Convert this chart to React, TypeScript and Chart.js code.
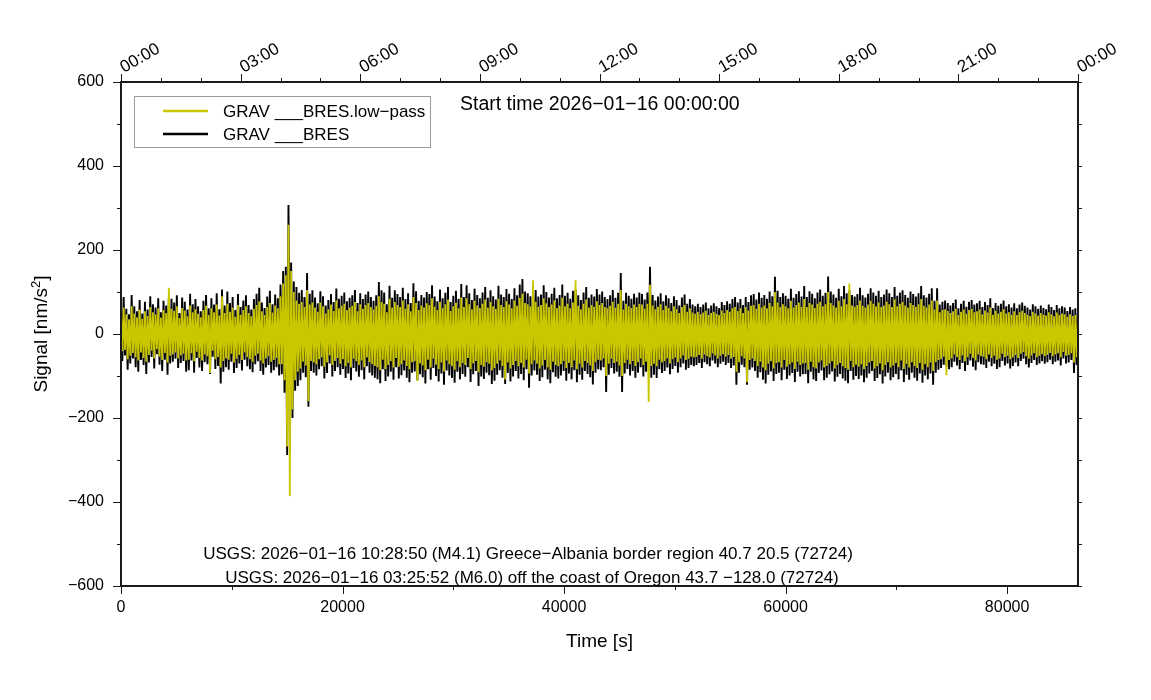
import React, { useEffect, useRef } from "react";
import { Chart, registerables } from "chart.js";

Chart.register(...registerables);

// ---- data (one sample every SAMPLE_STEP_S seconds) ----
const SAMPLE_STEP_S = 120;

const BRES_RAW = [
  72,-64,88,-51,60,-85,47,-70,93,-58,66,-79,54,-90,81,-62,49,-74,77,-95,58,-68,90,-55,
  71,-82,63,-48,85,-73,52,-88,79,-61,68,-97,86,-70,84,-66,75,-59,92,-81,50,-69,87,-64,
  77,-90,58,-86,96,-63,71,-92,83,-57,66,-80,54,-88,79,-67,93,-72,61,-95,85,-54,70,-83,
  97,-76,59,-118,106,-90,68,-79,101,-85,74,-66,88,-93,57,-81,95,-70,64,-87,80,-61,92,-77,
  69,-84,58,-91,83,-72,96,-65,110,-88,75,-97,62,-80,89,-74,103,-92,71,-86,94,-79,85,-99,
  118,-96,150,-140,160,-288,307,-150,170,-200,125,-135,112,-124,98,-110,105,-92,88,-103,145,-173,96,-88,
  104,-92,87,-99,73,-84,102,-77,90,-106,68,-93,81,-70,95,-101,76,-88,108,-79,84,-97,91,-83,
  99,-105,78,-94,86,-110,92,-81,105,-89,74,-102,97,-86,83,-108,94,-77,101,-92,88,-99,79,-104,
  92,-108,124,-117,104,-84,99,-112,71,-101,115,-90,86,-109,104,-79,95,-106,88,-98,110,-87,83,-104,
  97,-115,74,-92,121,-89,102,-110,79,-96,93,-103,87,-118,100,-84,95,-109,116,-81,89,-100,78,-113,
  106,-94,85,-121,98,-87,112,-99,76,-105,91,-116,103,-90,84,-108,119,-95,88,-102,116,-79,97,-114,
  81,-96,108,-88,93,-124,85,-101,99,-107,112,-92,86,-98,104,-119,90,-111,82,-97,115,-86,94,-104,
  88,-119,107,-93,96,-113,83,-101,109,-88,92,-106,118,-95,131,-110,101,-84,97,-128,90,-99,112,-87,
  105,-97,89,-112,94,-103,116,-85,100,-108,87,-117,96,-91,110,-102,85,-106,93,-99,118,-88,91,-111,
  98,-94,84,-108,103,-86,106,-115,92,-97,81,-109,99,-88,112,-95,86,-103,94,-120,89,-92,107,-84,
  94,-86,101,-79,88,-138,83,-97,92,-81,105,-94,86,-90,98,-102,145,-138,79,-94,98,-83,91,-99,
  84,-88,96,-104,87,-92,99,-79,95,-101,82,-90,99,-86,160,-104,93,-97,80,-105,89,-84,97,-93,
  78,-88,92,-80,85,-96,74,-83,90,-76,81,-92,68,-79,87,-70,94,-85,72,-81,83,-74,70,-77,
  66,-74,72,-69,64,-81,70,-67,75,-72,61,-77,68,-63,73,-70,66,-79,62,-71,76,-66,69,-74,
  78,-69,72,-81,83,-75,88,-121,75,-92,83,-73,69,-79,88,-121,76,-85,92,-80,95,-88,82,-104,
  99,-91,86,-109,93,-118,84,-97,101,-89,90,-112,136,-95,103,-92,88,-110,97,-85,91,-107,84,-99,
  108,-93,86,-114,95,-90,102,-101,89,-96,114,-95,88,-117,102,-90,96,-108,85,-112,99,-93,106,-87,
  91,-110,98,-104,137,-96,101,-89,94,-113,86,-102,108,-95,90,-106,114,-111,97,-117,104,-88,93,-109,
  89,-100,95,-107,110,-99,92,-115,87,-104,96,-94,109,-88,99,-112,91,-105,103,-96,88,-118,94,-101,
  106,-92,97,-110,88,-103,112,-95,91,-108,99,-87,104,-114,93,-97,86,-109,101,-92,95,-104,89,-111,
  97,-94,114,-116,92,-99,87,-108,96,-94,109,-121,79,-92,109,-85,70,-81,77,-73,80,-78,74,-84,
  68,-79,74,-66,82,-75,61,-84,72,-69,79,-88,65,-74,77,-63,81,-78,70,-86,73,-67,79,-72,
  64,-73,76,-81,69,-66,85,-77,62,-71,74,-83,67,-79,72,-64,80,-75,66,-70,71,-82,63,-76,
  73,-68,61,-77,70,-64,75,-59,67,-72,63,-80,58,-69,71,-62,66,-74,60,-70,68,-65,62,-71,
  59,-67,70,-61,64,-72,57,-66,69,-63,61,-75,66,-58,63,-70,55,-68,64,-62,58,-93,61,-74,
  58,
];

const BRES_LOWPASS = [
  50,-41,63,-38,47,-60,35,-52,66,-45,49,-55,40,-63,58,-44,36,-57,54,-66,43,-50,64,-40,
  52,-58,47,-36,61,-54,39,-62,57,-45,50,-68,110,-52,60,-49,55,-44,66,-58,38,-51,62,-47,
  56,-63,42,-61,68,-46,52,-65,59,-42,48,-57,40,-63,57,-49,67,-53,45,-93,61,-40,52,-60,
  70,-55,44,-80,90,-64,50,-58,72,-61,53,-47,63,-68,41,-59,69,-50,46,-62,57,-44,66,-55,
  50,-60,42,-66,60,-52,69,-47,78,-63,54,-70,45,-58,64,-53,74,-66,51,-62,68,-57,61,-72,
  90,-72,120,-110,140,-268,260,-386,150,-180,100,-110,80,-90,72,-82,76,-66,64,-75,105,-160,70,-64,
  75,-68,63,-72,53,-60,75,-56,66,-78,49,-68,59,-51,70,-74,55,-64,80,-57,61,-71,67,-60,
  72,-77,57,-69,63,-80,67,-59,76,-65,54,-74,71,-63,60,-79,69,-56,74,-67,64,-72,58,-76,
  67,-79,90,-86,76,-61,72,-83,52,-74,84,-65,63,-80,76,-57,69,-78,64,-72,80,-63,60,-76,
  71,-84,54,-67,88,-65,74,-112,57,-70,68,-75,63,-86,73,-61,69,-80,85,-59,65,-73,57,-83,
  77,-68,62,-89,71,-63,82,-72,55,-77,66,-85,75,-65,61,-79,87,-69,64,-74,85,-57,71,-83,
  59,-70,79,-64,68,-91,62,-74,72,-78,82,-67,63,-71,76,-87,66,-81,60,-71,84,-63,69,-76,
  64,-108,78,-68,70,-82,61,-74,80,-64,67,-77,86,-69,96,-80,74,-61,71,-94,66,-72,128,-63,
  77,-71,65,-82,69,-75,85,-62,73,-79,64,-85,70,-66,80,-74,62,-77,68,-72,86,-64,66,-81,
  72,-69,61,-79,75,-63,128,-84,67,-71,59,-80,72,-64,82,-69,63,-75,69,-88,65,-67,78,-61,
  69,-63,74,-58,64,-100,61,-71,67,-59,77,-69,63,-66,72,-75,105,-100,58,-69,72,-61,66,-72,
  62,-64,70,-76,64,-67,72,-58,70,-74,60,-66,72,-162,117,-76,68,-71,59,-77,65,-61,71,-68,
  57,-64,67,-58,62,-70,54,-60,66,-56,59,-67,50,-58,64,-51,69,-62,53,-59,61,-54,51,-56,
  48,-54,53,-50,47,-59,51,-49,55,-53,45,-56,50,-46,53,-51,48,-58,45,-52,56,-48,50,-54,
  57,-50,53,-59,61,-55,64,-90,55,-67,61,-53,50,-58,64,-115,56,-62,67,-58,69,-64,60,-76,
  72,-66,63,-80,68,-86,61,-71,74,-65,66,-82,100,-69,75,-67,64,-80,71,-62,66,-78,61,-72,
  79,-68,63,-83,69,-66,75,-74,65,-70,83,-69,64,-85,74,-66,70,-79,62,-82,72,-68,77,-63,
  66,-80,71,-76,100,-70,74,-65,68,-82,63,-74,79,-69,66,-77,83,-81,71,-85,120,-64,68,-79,
  65,-73,69,-78,80,-72,67,-84,63,-76,70,-68,79,-64,72,-82,66,-77,75,-70,64,-86,68,-74,
  77,-67,71,-80,64,-75,82,-69,66,-79,72,-63,76,-83,68,-71,63,-80,74,-67,69,-76,65,-81,
  71,-69,83,-85,67,-72,63,-79,70,-68,80,-88,58,-67,80,-62,52,-60,57,-54,59,-98,55,-62,
  50,-58,54,-49,60,-55,45,-62,53,-51,58,-65,48,-55,57,-47,60,-57,52,-63,54,-49,58,-53,
  47,-54,56,-60,51,-49,63,-57,46,-52,55,-61,49,-58,53,-47,59,-55,49,-52,52,-60,46,-56,
  54,-50,45,-57,52,-47,55,-43,50,-53,46,-59,43,-51,53,-46,49,-55,44,-52,50,-48,46,-53,
  44,-50,52,-45,47,-53,42,-49,51,-46,45,-55,49,-43,47,-52,41,-50,47,-46,43,-68,45,-55,
  42,
];

const BOTTOM_TICKS = [0, 20000, 40000, 60000, 80000];
const TOP_TICK_SECONDS = [0, 10800, 21600, 32400, 43200, 54000, 64800, 75600, 86400];
const TOP_TIME_LABELS = ["00:00", "03:00", "06:00", "09:00", "12:00", "15:00", "18:00", "21:00", "00:00"];
const SERIES_NAMES = ["GRAV ___BRES.low\u2212pass", "GRAV ___BRES"];
const SERIES_COLORS = ["rgb(202,198,0)", "#000000"];
const START_TIME_TEXT = "Start time 2026\u221201\u221216 00:00:00";
const EVENT_LINES = [
  "USGS: 2026\u221201\u221216 10:28:50 (M4.1) Greece\u2212Albania border region 40.7 20.5 (72724)",
  "USGS: 2026\u221201\u221216 03:25:52 (M6.0) off the coast of Oregon 43.7 \u2212128.0 (72724)",
];
const X_TITLE = "Time [s]";
const Y_TITLE = "Signal [nm/s";

const X_MIN = 0;
const X_MAX = 86400;
const Y_MIN = -600;
const Y_MAX = 600;

const FONT = "'Liberation Sans', Arial, Helvetica, sans-serif";

function toPoints(values: number[]) {
  return values.map((v, i) => ({ x: i * SAMPLE_STEP_S, y: v }));
}

const overlayPlugin = {
  id: "overlay",
  afterDraw(chart: any) {
    const { ctx, chartArea: a, scales } = chart;
    const xs = scales.x;
    const ys = scales.y;
    ctx.save();

    // ticks
    ctx.strokeStyle = "#1a1a1a";
    ctx.lineWidth = 1;
    ctx.beginPath();
    for (let v = 0; v <= 80000; v += 10000) {
      const px = Math.round(xs.getPixelForValue(v)) + 0.5;
      const len = v % 20000 === 0 ? 8 : 4;
      ctx.moveTo(px, a.bottom);
      ctx.lineTo(px, a.bottom + len);
    }
    for (let h = 0; h <= 24; h++) {
      const px = Math.round(xs.getPixelForValue(h * 3600)) + 0.5;
      const len = h % 3 === 0 ? 8 : 4;
      ctx.moveTo(px, a.top);
      ctx.lineTo(px, a.top - len);
    }
    for (let v = Y_MIN; v <= Y_MAX; v += 100) {
      const py = Math.round(ys.getPixelForValue(v)) + 0.5;
      const len = v % 200 === 0 ? 8 : 4;
      ctx.moveTo(a.left, py);
      ctx.lineTo(a.left - len, py);
      ctx.moveTo(a.right, py);
      ctx.lineTo(a.right + 4, py);
    }
    ctx.stroke();

    // frame
    ctx.lineWidth = 2;
    ctx.strokeRect(a.left, a.top, a.right - a.left, a.bottom - a.top);

    // top time labels (rotated)
    ctx.fillStyle = "#000";
    ctx.font = `17px ${FONT}`;
    ctx.textAlign = "left";
    ctx.textBaseline = "alphabetic";
    TOP_TICK_SECONDS.forEach((s, i) => {
      const px = xs.getPixelForValue(s);
      ctx.save();
      ctx.translate(px + 3, a.top - 9);
      ctx.rotate(-Math.PI / 6);
      ctx.fillText(TOP_TIME_LABELS[i], 0, 0);
      ctx.restore();
    });

    // legend
    const lx = 134, ly = 96, lw = 296, lh = 51;
    ctx.fillStyle = "#ffffff";
    ctx.fillRect(lx, ly, lw, lh);
    ctx.strokeStyle = "#9a9a9a";
    ctx.lineWidth = 1;
    ctx.strokeRect(lx + 0.5, ly + 0.5, lw, lh);
    const rows = [111, 134];
    ctx.font = `17px ${FONT}`;
    ctx.textBaseline = "middle";
    ctx.textAlign = "left";
    rows.forEach((ry, i) => {
      ctx.strokeStyle = SERIES_COLORS[i];
      ctx.lineWidth = 2.5;
      ctx.beginPath();
      ctx.moveTo(163, ry);
      ctx.lineTo(208, ry);
      ctx.stroke();
      ctx.fillStyle = "#000";
      ctx.fillText(SERIES_NAMES[i], 223, ry + 1);
    });

    // start time
    ctx.font = `19.5px ${FONT}`;
    ctx.fillStyle = "#000";
    ctx.fillText(START_TIME_TEXT, 460, 105);

    // event lines
    ctx.font = `17px ${FONT}`;
    ctx.textAlign = "center";
    ctx.fillText(EVENT_LINES[0], 528, 554);
    ctx.fillText(EVENT_LINES[1], 532, 578);

    // axis titles
    ctx.font = `19px ${FONT}`;
    ctx.fillText(X_TITLE, (a.left + a.right) / 2, 642);

    ctx.save();
    ctx.translate(42, (a.top + a.bottom) / 2);
    ctx.rotate(-Math.PI / 2);
    ctx.font = `19px ${FONT}`;
    const w1 = ctx.measureText(Y_TITLE).width;
    ctx.font = `13px ${FONT}`;
    const w2 = ctx.measureText("2").width;
    ctx.font = `19px ${FONT}`;
    const w3 = ctx.measureText("]").width;
    const total = w1 + w2 + w3;
    let sx = -total / 2;
    ctx.textAlign = "left";
    ctx.fillText(Y_TITLE, sx, 0);
    sx += w1;
    ctx.font = `13px ${FONT}`;
    ctx.fillText("2", sx, -6);
    sx += w2;
    ctx.font = `19px ${FONT}`;
    ctx.fillText("]", sx, 0);
    ctx.restore();

    ctx.restore();
  },
};

export default function App() {
  const canvasRef = useRef<HTMLCanvasElement | null>(null);

  useEffect(() => {
    document.body.style.margin = "0";
    const canvas = canvasRef.current;
    if (!canvas) return;
    const tickFont = { family: FONT, size: 16 };
    const common = {
      pointRadius: 0,
      tension: 0,
      borderJoinStyle: "bevel" as const,
      xAxisID: "x",
      yAxisID: "y",
    };
    const chart = new Chart(canvas, {
      type: "line",
      data: {
        datasets: [
          {
            label: SERIES_NAMES[0],
            data: toPoints(BRES_LOWPASS),
            borderColor: SERIES_COLORS[0],
            borderWidth: 1.8,
            ...common,
          },
          {
            label: SERIES_NAMES[1],
            data: toPoints(BRES_RAW),
            borderColor: SERIES_COLORS[1],
            borderWidth: 1.9,
            ...common,
          },
        ],
      },
      options: {
        responsive: false,
        animation: false,
        devicePixelRatio: 1,
        layout: { padding: { left: 0, right: 73, top: 82, bottom: 0 } },
        plugins: { legend: { display: false }, tooltip: { enabled: false } },
        scales: {
          x: {
            type: "linear",
            position: "bottom",
            min: X_MIN,
            max: X_MAX,
            grid: { display: false, drawTicks: false },
            border: { display: false },
            afterBuildTicks: (s: any) => {
              s.ticks = BOTTOM_TICKS.map((v) => ({ value: v }));
            },
            ticks: {
              autoSkip: false,
              maxRotation: 0,
              minRotation: 0,
              padding: 12,
              color: "#000",
              font: tickFont,
              callback: (v: any) => String(v),
            },
            afterFit: (s: any) => {
              s.height = 114;
              s.paddingLeft = 0;
              s.paddingRight = 0;
            },
          },
          y: {
            type: "linear",
            position: "left",
            min: Y_MIN,
            max: Y_MAX,
            grid: { display: false, drawTicks: false },
            border: { display: false },
            ticks: {
              stepSize: 200,
              padding: 17,
              color: "#000",
              font: tickFont,
              callback: (v: any) => (v < 0 ? "\u2212" + Math.abs(v) : String(v)),
            },
            afterFit: (s: any) => {
              s.width = 121;
              s.paddingTop = 0;
              s.paddingBottom = 0;
            },
          },
        },
      },
      plugins: [overlayPlugin],
    });
    return () => chart.destroy();
  }, []);

  return (
    <div style={{ width: 1151, height: 700, position: "relative", background: "#fff" }}>
      <canvas ref={canvasRef} width={1151} height={700} style={{ display: "block" }} />
    </div>
  );
}
